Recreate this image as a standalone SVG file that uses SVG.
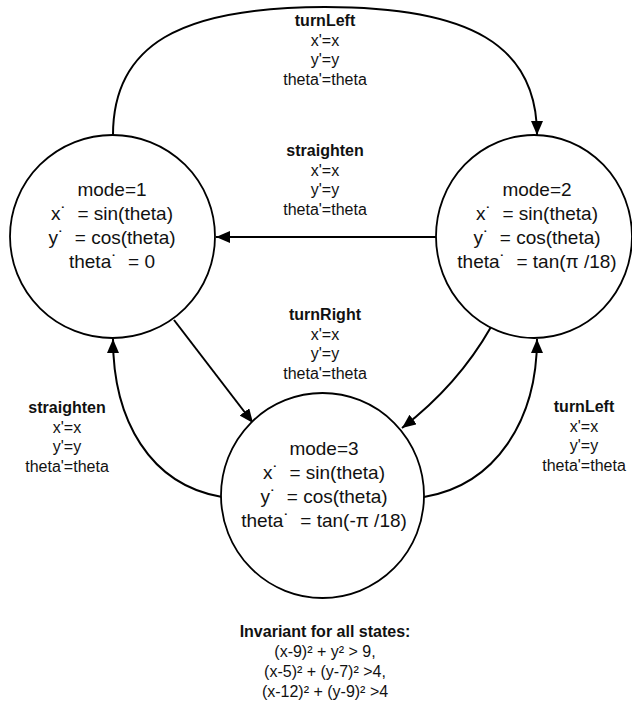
<svg xmlns="http://www.w3.org/2000/svg" width="632" height="704" viewBox="0 0 632 704">
<defs>
<style>
.node{fill:#fff;stroke:#000;stroke-width:1.8}
.nt{font-family:"Liberation Sans",Arial,sans-serif;font-size:19px;fill:#111;text-anchor:middle;white-space:pre}
.lb{font-family:"Liberation Sans",Arial,sans-serif;font-size:16px;fill:#111;text-anchor:middle}
.b{font-weight:bold}
.edge{fill:none;stroke:#000;stroke-width:2;marker-end:url(#ah)}
</style>
<marker id="ah" markerUnits="userSpaceOnUse" markerWidth="14" markerHeight="12" refX="14" refY="6" orient="auto">
<path d="M0,0 L14,6 L0,12 z" fill="#000"/>
</marker>
</defs>
<rect width="632" height="704" fill="#fff"/>
<g id="connectors">
<path class="edge" d="M113 135 C113 45, 180 7, 325 7 C470 7, 537 45, 537 135"/>
<path class="edge" d="M436 237 L216 237"/>
<path class="edge" d="M174 320 L253 423"/>
<path class="edge" d="M491 327 Q458 385 402 428"/>
<path class="edge" d="M222 497 C150 485, 113 420, 113 339"/>
<path class="edge" d="M424 497 C496 485, 537 420, 537 339"/>
</g>
<g id="node1">
<ellipse class="node" cx="112.5" cy="236.5" rx="102.5" ry="101.5"/>
<text class="nt" x="112" y="196">mode=1</text>
<text class="nt" x="112" y="220">x˙  = sin(theta)</text>
<text class="nt" x="112" y="244">y˙  = cos(theta)</text>
<text class="nt" x="112" y="268">theta˙  = 0</text>
</g>
<g id="node2">
<ellipse class="node" cx="534" cy="236.5" rx="98" ry="101.5"/>
<text class="nt" x="537" y="196">mode=2</text>
<text class="nt" x="537" y="220">x˙  = sin(theta)</text>
<text class="nt" x="537" y="244">y˙  = cos(theta)</text>
<text class="nt" x="537" y="268">theta˙  = tan(π /18)</text>
</g>
<g id="node3">
<ellipse class="node" cx="322.5" cy="495.5" rx="101.5" ry="102.5"/>
<text class="nt" x="324" y="455">mode=3</text>
<text class="nt" x="324" y="479">x˙  = sin(theta)</text>
<text class="nt" x="324" y="503">y˙  = cos(theta)</text>
<text class="nt" x="324" y="527">theta˙  = tan(-π /18)</text>
</g>
<g id="labels">
<text class="lb b" x="325" y="26">turnLeft</text>
<text class="lb" x="325" y="45.5">x'=x</text>
<text class="lb" x="325" y="65">y'=y</text>
<text class="lb" x="325" y="84.5">theta'=theta</text>
<text class="lb b" x="325" y="156">straighten</text>
<text class="lb" x="325" y="175.5">x'=x</text>
<text class="lb" x="325" y="195">y'=y</text>
<text class="lb" x="325" y="214.5">theta'=theta</text>
<text class="lb b" x="325" y="320">turnRight</text>
<text class="lb" x="325" y="339.5">x'=x</text>
<text class="lb" x="325" y="359">y'=y</text>
<text class="lb" x="325" y="378.5">theta'=theta</text>
<text class="lb b" x="67" y="413">straighten</text>
<text class="lb" x="67" y="432.5">x'=x</text>
<text class="lb" x="67" y="452">y'=y</text>
<text class="lb" x="67" y="471.5">theta'=theta</text>
<text class="lb b" x="584" y="412">turnLeft</text>
<text class="lb" x="584" y="431.5">x'=x</text>
<text class="lb" x="584" y="451">y'=y</text>
<text class="lb" x="584" y="470.5">theta'=theta</text>
</g>
<g id="invariant">
<text class="lb b" x="325" y="637">Invariant for all states:</text>
<text class="lb" x="325" y="657">(x-9)² + y² &gt; 9,</text>
<text class="lb" x="325" y="677">(x-5)² + (y-7)² &gt;4,</text>
<text class="lb" x="325" y="697">(x-12)² + (y-9)² &gt;4</text>
</g>
</svg>
